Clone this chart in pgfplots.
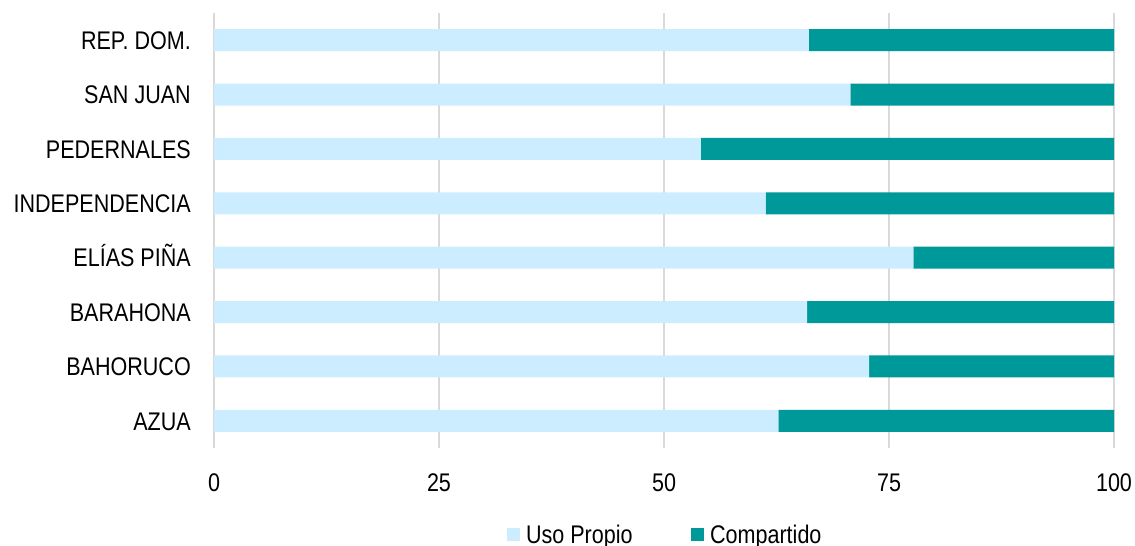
\documentclass[border=0pt]{standalone}
\usepackage{pgfplots}
\pgfplotsset{compat=1.18}
\usepackage{fontspec}
\setmainfont[FakeStretch=0.845]{Liberation Sans}
\definecolor{lightb}{RGB}{204,236,255}
\definecolor{tealc}{RGB}{0,153,153}
\definecolor{gridg}{RGB}{217,217,217}
\begin{document}
\begin{tikzpicture}[x=1pt,y=1pt]
\begin{axis}[
  at={(214pt,98pt)}, anchor=south west,
  scale only axis, width=900pt, height=435pt,
  xbar stacked, bar width=22pt,
  xmin=0, xmax=100, ymin=-0.5, ymax=7.5,
  xtick={0,25,50,75,100},
  ytick={0,1,2,3,4,5,6,7},
  yticklabels={AZUA,BAHORUCO,BARAHONA,ELÍAS PIÑA,INDEPENDENCIA,PEDERNALES,SAN JUAN,REP. DOM.},
  xmajorgrids, grid style={draw=gridg, line width=1.8pt},
  axis line style={draw=none}, major tick length=0pt, tick style={draw=none},
  /pgf/number format/assume math mode=true,
  tick label style={font=\fontsize{25.5pt}{30pt}\selectfont},
  xticklabel style={anchor=base, inner sep=0pt, yshift=-43pt},
  yticklabel style={anchor=base east, inner sep=0pt, xshift=-23pt, yshift=-9.2pt},
  legend style={at={(axis description cs:0.5,-0.171)}, anchor=north, draw=none, fill=none,
    font=\fontsize{25.5pt}{30pt}\selectfont, legend columns=2,
    nodes={inner sep=0pt},
    /tikz/every odd column/.append style={column sep=6pt},
    /tikz/every even column/.append style={column sep=58pt}},
  legend image code/.code={\fill[#1] (0pt,-6.5pt) rectangle (13.5pt,7pt);},
]
\addplot[fill=lightb, draw=none] coordinates {(62.7,0) (72.8,1) (65.9,2) (77.7,3) (61.3,4) (54.1,5) (70.7,6) (66.1,7)};
\addplot[fill=tealc, draw=none] coordinates {(37.3,0) (27.2,1) (34.1,2) (22.3,3) (38.7,4) (45.9,5) (29.3,6) (33.9,7)};
\legend{Uso Propio, Compartido}
\end{axis}
\pgfresetboundingbox
\path (0,0) rectangle (1135,546);
\end{tikzpicture}
\end{document}
